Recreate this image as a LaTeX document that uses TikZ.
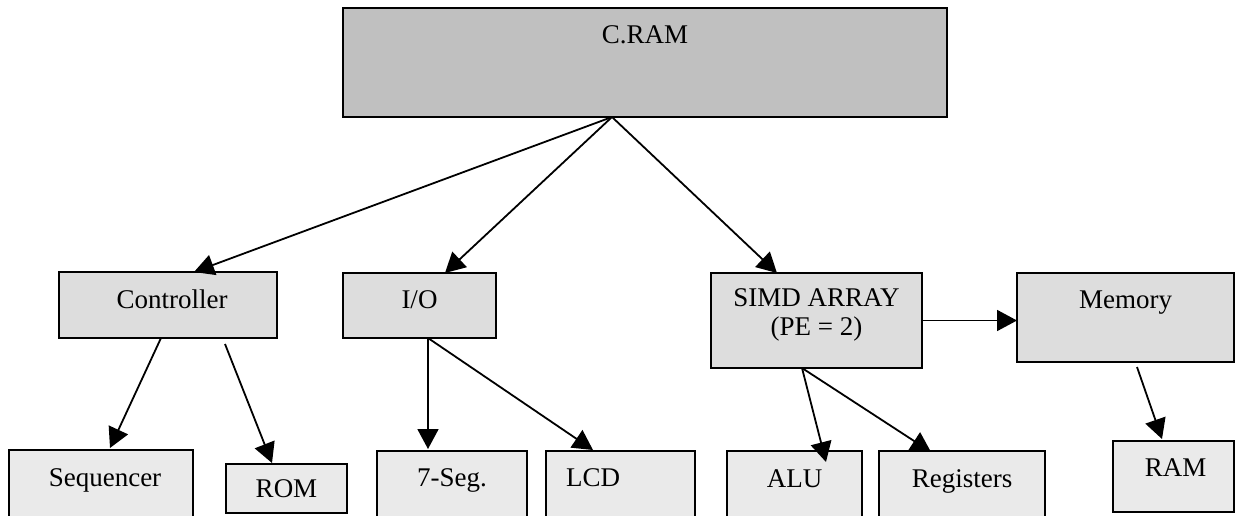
\documentclass[tikz,border=0pt]{standalone}
\usepackage{fontspec}
\setmainfont{Liberation Serif}
\usetikzlibrary{arrows.meta}
\definecolor{topfill}{HTML}{C0C0C0}
\definecolor{midfill}{HTML}{DDDDDD}
\definecolor{lowfill}{HTML}{EAEAEA}
\tikzset{
  box/.style={draw, line width=1.8pt, inner sep=0pt, outer sep=0pt, anchor=north west,
    font=\fontsize{27}{29}\selectfont},
  topbox/.style={box, fill=topfill},
  midbox/.style={box, fill=midfill},
  lowbox/.style={box, fill=lowfill},
  arr/.style={line width=1.8pt, -{Triangle[length=20pt,width=21pt]}}
}
\begin{document}
\begin{tikzpicture}[x=1pt,y=-1pt]
\useasboundingbox (0,0) rectangle (1235,515);
\clip (0,0) rectangle (1235,515);
% boxes
\node[topbox, minimum width=604pt, text height=35pt, text depth=74pt] (cram) at (343,8) {C.RAM};
\node[midbox, minimum width=218pt, text height=36pt, text depth=30pt] (ctrl) at (59,272) {\hspace*{8pt}Controller};
\node[midbox, minimum width=153pt, text height=35pt, text depth=30pt] (io) at (343,273) {I/O};
\node[midbox, minimum width=211pt, text height=33pt, text depth=62pt] (simd) at (711,273)
  {\begin{tabular}[t]{@{}c@{}}SIMD ARRAY\\(PE = 2)\end{tabular}};
\node[midbox, minimum width=217pt, text height=35pt, text depth=54pt] (mem) at (1017,273) {Memory};
\node[lowbox, minimum width=184pt, text height=36pt, text depth=80pt] (seq) at (9,450) {\hspace*{8pt}Sequencer};
\node[lowbox, minimum width=121pt, text height=33pt, text depth=16pt] (rom) at (226,464) {ROM};
\node[lowbox, minimum width=150pt, text height=35pt, text depth=80pt] (seg) at (377,451) {7-Seg.};
\node[lowbox, minimum width=149pt, text height=35pt, text depth=80pt] (lcd) at (546,451)
  {\makebox[149pt][l]{\hspace*{20pt}LCD}};
\node[lowbox, minimum width=135pt, text height=36pt, text depth=80pt] (alu) at (727,451) {ALU};
\node[lowbox, minimum width=166pt, text height=36pt, text depth=80pt] (reg) at (879,451) {Registers};
\node[lowbox, minimum width=121pt, text height=35pt, text depth=36pt] (ram) at (1113,441) {\hspace*{4pt}RAM};
% connectors
\draw[arr] ([xshift=-33pt]cram.south) -- ([xshift=26pt]ctrl.north);
\draw[arr] ([xshift=-33pt]cram.south) -- ([xshift=25.5pt]io.north);
\draw[arr] ([xshift=-33pt]cram.south) -- ([xshift=-39.5pt]simd.north);
\draw[arr] ([xshift=-7pt]ctrl.south) -- ([xshift=9pt,yshift=2pt]seq.north);
\draw[arr] ([xshift=57pt,yshift=-6pt]ctrl.south) -- ([xshift=-14.5pt,yshift=1pt]rom.north);
\draw[arr] ([xshift=8.5pt]io.south) -- ([xshift=-24pt,yshift=2pt]seg.north);
\draw[arr] ([xshift=8.5pt]io.south) -- ([xshift=-27.5pt,yshift=1pt]lcd.north);
\draw[arr] (simd.east) -- (simd.east -| mem.west);
\draw[arr] ([xshift=-14.5pt]simd.south) -- ([xshift=31.5pt,yshift=-11pt]alu.north);
\draw[arr] ([xshift=-14.5pt]simd.south) -- ([xshift=-31pt,yshift=-1pt]reg.north);
\draw[arr] ([xshift=11.5pt,yshift=-5pt]mem.south) -- ([xshift=-11.5pt,yshift=2pt]ram.north);
\end{tikzpicture}
\end{document}
